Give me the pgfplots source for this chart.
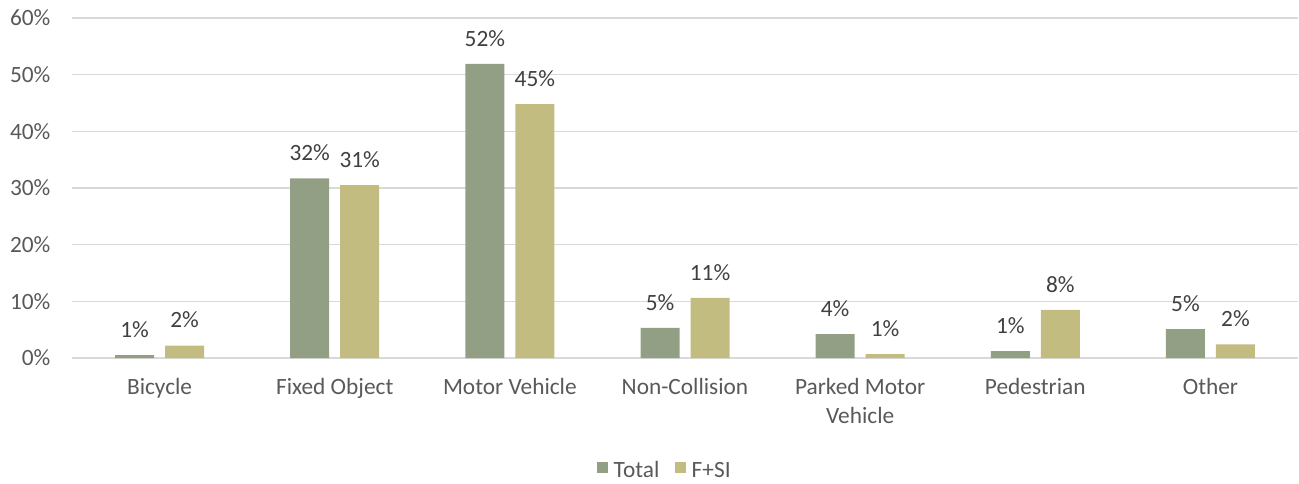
\documentclass[border=0pt]{standalone}
\usepackage{fontspec}
\setmainfont{Carlito}
\usepackage{pgfplots}
\pgfplotsset{compat=1.18}

\definecolor{totalc}{RGB}{147,159,133}
\definecolor{fsic}{RGB}{195,188,128}
\definecolor{gridc}{RGB}{217,217,217}
\definecolor{tickc}{RGB}{89,89,89}
\definecolor{labc}{RGB}{64,64,64}

\begin{document}
\begin{tikzpicture}
% frame of the whole figure, 1 px = 0.75pt
\useasboundingbox (-54pt,-93.75pt) rectangle (920.25pt,268.5pt);
\begin{axis}[
  at={(0,0)}, anchor=south west,
  scale only axis,
  width=919.5pt, height=255pt,
  ybar=8.25pt, bar width=29.25pt,
  xmin=-0.5, xmax=6.5,
  ymin=0, ymax=60,
  xtick={0,...,6},
  xticklabels={Bicycle, Fixed Object, Motor Vehicle, Non-Collision, {Parked Motor\\Vehicle}, Pedestrian, Other},
  ytick={0,10,...,60},
  yticklabels={0\%,10\%,20\%,30\%,40\%,50\%,60\%},
  major tick length=0pt,
  axis line style={draw=none},
  ymajorgrids, major grid style={draw=gridc, line width=1.2pt},
  xticklabel style={font=\fontsize{17.5}{22}\selectfont, text=tickc, align=center, anchor=north, inner sep=0pt, yshift=-15pt},
  yticklabel style={font=\fontsize{17.5}{20}\selectfont, text=tickc, anchor=east, inner sep=0pt, xshift=-16pt},
  point meta=explicit symbolic,
  nodes near coords,
  every node near coord/.append style={font=\fontsize{17.5}{20}\selectfont, text=labc, anchor=south, inner sep=0pt, yshift=13pt},
  legend style={at={(0.484,-0.332)}, anchor=center, draw=none, fill=none,
    font=\fontsize{17.5}{20}\selectfont, text=tickc, legend columns=2,
    /tikz/every odd column/.append style={column sep=2pt},
    /tikz/every even column/.append style={column sep=10pt}},
  legend image code/.code={\fill[#1] (0pt,-1.5pt) rectangle (8.25pt,6.75pt);},
  clip=false,
]
\addplot[fill=totalc, draw=none] coordinates {
  (0,0.5) [1\%] (1,31.7) [32\%] (2,51.9) [52\%] (3,5.3) [5\%]
  (4,4.2) [4\%] (5,1.2) [1\%] (6,5.1) [5\%]};
\addlegendentry{Total}
\addplot[fill=fsic, draw=none] coordinates {
  (0,2.2) [2\%] (1,30.5) [31\%] (2,44.8) [45\%] (3,10.6) [11\%]
  (4,0.7) [1\%] (5,8.5) [8\%] (6,2.4) [2\%]};
\addlegendentry{F+SI}
\end{axis}
\end{tikzpicture}
\end{document}
